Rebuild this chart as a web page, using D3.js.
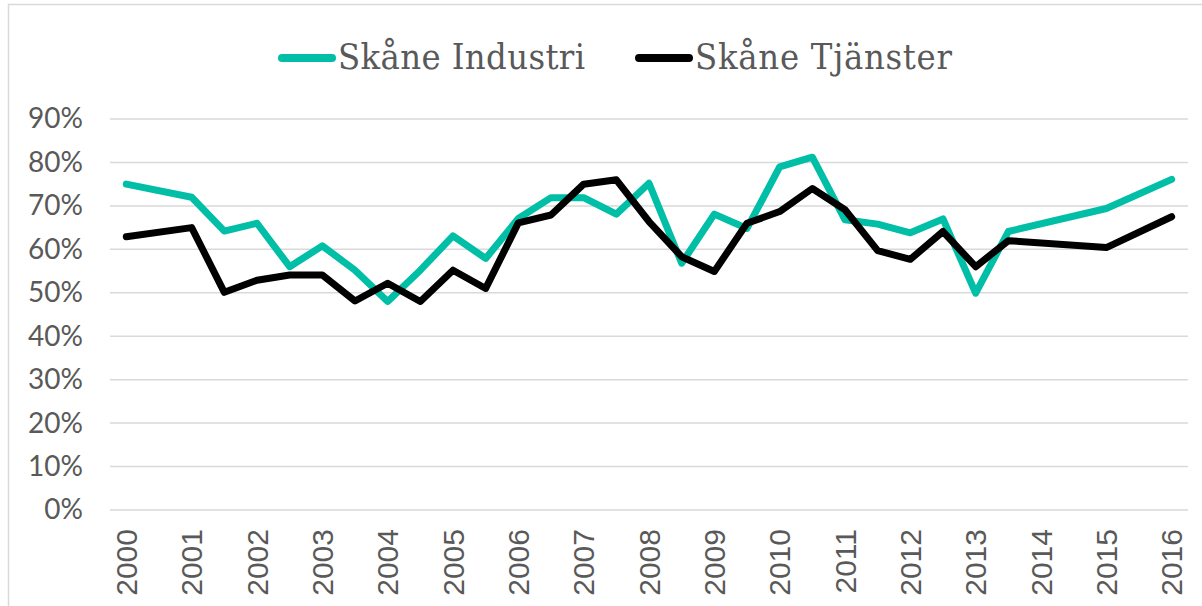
<!DOCTYPE html>
<html>
<head>
<meta charset="utf-8">
<script src="https://cdn.jsdelivr.net/npm/d3@7"></script>
<style>
  body { margin: 0; background: #fff; }
</style>
</head>
<body>
<div id="chart"></div>
<script>
// half-year categories, labels on whole years
var years = [2000,2000.5,2001,2001.5,2002,2002.5,2003,2003.5,2004,2004.5,2005,2005.5,2006,2006.5,
  2007,2007.5,2008,2008.5,2009,2009.5,2010,2010.5,2011,2011.5,2012,2012.5,2013,2013.5,2014,2014.5,
  2015,2015.5,2016];
var yTicks = [0,0.1,0.2,0.3,0.4,0.5,0.6,0.7,0.8,0.9];

// null = no value (Excel connects the gap)
var industri = [0.75,null,0.72,0.642,0.66,0.56,0.608,0.552,0.48,0.552,0.631,0.579,0.671,0.719,
  0.719,0.681,0.752,0.568,0.681,0.648,0.79,0.812,0.668,0.658,0.638,0.67,0.499,0.641,null,null,
  0.694,null,0.761];
var tjanster = [0.629,null,0.65,0.501,0.529,0.541,0.541,0.481,0.522,0.48,0.552,0.51,0.661,0.679,
  0.75,0.76,0.664,0.583,0.549,0.66,0.687,0.74,0.691,0.597,0.577,0.641,0.56,0.62,null,null,
  0.604,null,0.675];

var series = [
  {name: "Skåne Industri", color: "#00bfa6", values: industri},
  {name: "Skåne Tjänster", color: "#000000", values: tjanster}
];

var W = 1202, H = 606;
var margin = {top: 119, right: 14, bottom: 96, left: 110},
    width = W - margin.left - margin.right,
    height = H - margin.top - margin.bottom;

var svg = d3.select("#chart").append("svg")
    .attr("width", W)
    .attr("height", H);

// outer frame
svg.append("rect")
    .attr("x", 8.5).attr("y", 4.5)
    .attr("width", W - 6).attr("height", H)
    .attr("fill", "none")
    .attr("stroke", "#d9d9d9")
    .attr("stroke-width", 1.5);

var g = svg.append("g").attr("transform", "translate(" + margin.left + "," + margin.top + ")");

var x = d3.scaleBand().domain(years).range([0, width]);
var y = d3.scaleLinear().domain([0, 0.9]).range([height, 0]);

// gridlines
g.selectAll(".grid")
    .data(yTicks)
    .enter().append("line")
    .attr("x1", 0).attr("x2", width)
    .attr("y1", function(d) { return y(d); })
    .attr("y2", function(d) { return y(d); })
    .attr("stroke", "#d9d9d9")
    .attr("stroke-width", 1.5);

// y axis labels
var yAxis = g.append("g")
    .call(d3.axisLeft(y).tickValues(yTicks).tickSize(0).tickPadding(27)
      .tickFormat(function(d) { return Math.round(d * 100) + "%"; }));
yAxis.select(".domain").remove();
yAxis.selectAll("text")
    .attr("fill", "#595959")
    .attr("font-family", "Lato")
    .attr("font-size", 28);

// x axis labels (rotated)
var xAxis = g.append("g")
    .attr("transform", "translate(0," + height + ")")
    .call(d3.axisBottom(x).tickSize(0)
      .tickValues(years.filter(function(d) { return d % 1 === 0; }))
      .tickFormat(d3.format("d")));
xAxis.select(".domain").remove();
xAxis.selectAll("text")
    .attr("fill", "#595959")
    .attr("font-family", "Liberation Sans")
    .attr("font-size", 30)
    .attr("text-anchor", "end")
    .attr("transform", "rotate(-90)")
    .attr("dy", "0.36em")
    .attr("x", -19)
    .attr("y", 0);

var line = d3.line()
    .x(function(d) { return x(d.year) + x.bandwidth() / 2; })
    .y(function(d) { return y(d.v); });

series.forEach(function(s) {
  var pts = years.map(function(yr, i) { return {year: yr, v: s.values[i]}; })
      .filter(function(d) { return d.v !== null; });
  g.append("path")
      .datum(pts)
      .attr("fill", "none")
      .attr("stroke", s.color)
      .attr("stroke-width", 7)
      .attr("stroke-linejoin", "round")
      .attr("stroke-linecap", "round")
      .attr("d", line);
});

// legend
var legendX = [278, 635];
var legendLen = [247, 257];
var legend = svg.selectAll(".legend")
    .data(series)
    .enter().append("g")
    .attr("transform", function(d, i) { return "translate(" + legendX[i] + ",58)"; });
legend.append("line")
    .attr("x1", 4).attr("x2", 54)
    .attr("stroke", function(d) { return d.color; })
    .attr("stroke-width", 8)
    .attr("stroke-linecap", "round");
legend.append("text")
    .attr("x", 60)
    .attr("y", 11)
    .attr("fill", "#595959")
    .attr("font-family", "DejaVu Serif")
    .attr("font-stretch", "condensed")
    .attr("font-size", 36)
    .attr("textLength", function(d, i) { return legendLen[i]; })
    .attr("lengthAdjust", "spacing")
    .text(function(d) { return d.name; });
</script>
</body>
</html>
